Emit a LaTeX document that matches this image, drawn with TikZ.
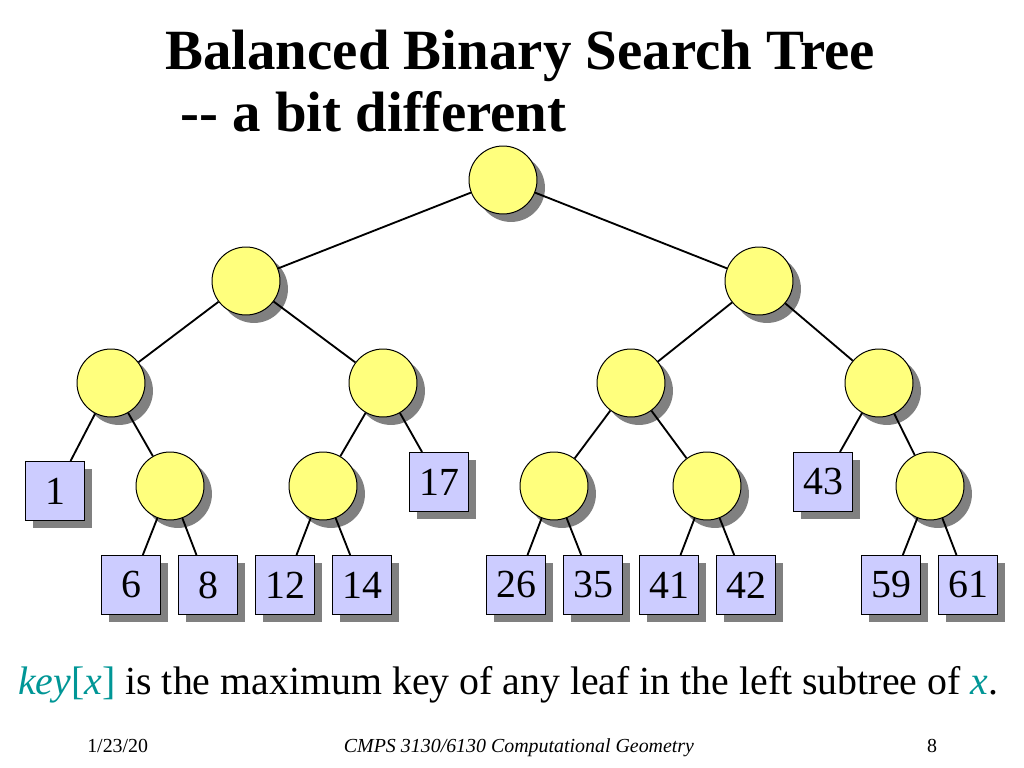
\documentclass[tikz,border=0pt]{standalone}
\usepackage{fontspec}
\setmainfont{Liberation Serif}
\usepackage{tikz}
\usetikzlibrary{shadows}

\definecolor{nodeyellow}{RGB}{255,255,125}
\definecolor{boxblue}{RGB}{204,204,255}
\definecolor{shadowgrey}{RGB}{128,128,128}
\definecolor{keyteal}{RGB}{0,150,150}

\begin{document}
\begin{tikzpicture}[x=0.703125pt, y=-0.703125pt,
	knot/.style={circle, draw, line width=0.7pt, fill=nodeyellow, minimum size=47.8pt, inner sep=0pt,
		drop shadow={fill=shadowgrey, opacity=1, shadow xshift=5.6pt, shadow yshift=-5.6pt}},
	keybox/.style={rectangle, draw, line width=0.7pt, fill=boxblue, minimum size=41.5pt, inner sep=0pt,
		font=\fontsize{28}{30}\selectfont,
		drop shadow={fill=shadowgrey, opacity=1, shadow xshift=5.6pt, shadow yshift=-5.6pt}},
	every edge/.style={draw, line width=1.3pt}]
	\useasboundingbox[fill=white] (0,0) rectangle (1024,768);
	\node (title) at (165,70) [anchor=base west, inner sep=0pt, font=\fontsize{40}{48}\selectfont\bfseries] {Balanced Binary Search Tree};
	\node (subtitle) at (180,132) [anchor=base west, inner sep=0pt, font=\fontsize{40}{48}\selectfont\bfseries] {{-}{-} a bit different};

	\node (root) at (503,180) [knot] {};
		\node (l) at (246,281) [knot] {}						edge[-](root);
			\node (ll) at (111,383) [knot] {}					edge[-](l);
				\node (1) at (55,491) [keybox] {1}				edge[-](ll);
				\node (llr) at (170,486) [knot] {}				edge[-](ll);
					\node (6) at (131,585) [keybox] {6}		edge[-](llr);
					\node (8) at (208,585) [keybox] {8}		edge[-](llr);
			\node (lr) at (383,383) [knot] {}					edge[-](l);
				\node (lrl) at (323,486) [knot] {}				edge[-](lr);
					\node (12) at (285,585) [keybox] {12}		edge[-](lrl);
					\node (14) at (362,585) [keybox] {14}		edge[-](lrl);
				\node (17) at (439,482) [keybox] {17}			edge[-](lr);
		\node (r) at (759,281) [knot] {}						edge[-](root);
			\node (rl) at (631,383) [knot] {}					edge[-](r);
				\node (rll) at (554,486) [knot] {}				edge[-](rl);
					\node (26) at (516,585) [keybox] {26}		edge[-](rll);
					\node (35) at (593,585) [keybox] {35}		edge[-](rll);
				\node (rlr) at (707,486) [knot] {}				edge[-](rl);
					\node (41) at (669,585) [keybox] {41}		edge[-](rlr);
					\node (42) at (746,585) [keybox] {42}		edge[-](rlr);
			\node (rr) at (879,383) [knot] {}					edge[-](r);
				\node (43) at (823,482) [keybox] {43}			edge[-](rr);
				\node (rrr) at (930,486) [knot] {}				edge[-](rr);
					\node (59) at (891,585) [keybox] {59}		edge[-](rrr);
					\node (61) at (968,585) [keybox] {61}		edge[-](rrr);

	\node (caption) at (18,694) [anchor=base west, inner sep=0pt, font=\fontsize{28}{32}\selectfont]
		{\textcolor{keyteal}{\textit{key}[\textit{x}]} is the maximum key of any leaf in the left subtree of \textcolor{keyteal}{\textit{x}}.};
	\node (date) at (87,752) [anchor=base west, inner sep=0pt, font=\fontsize{14}{16}\selectfont] {1/23/20};
	\node (course) at (519,752) [anchor=base, inner sep=0pt, font=\fontsize{14}{16}\selectfont\itshape] {CMPS 3130/6130 Computational Geometry};
	\node (page) at (932,752) [anchor=base, inner sep=0pt, font=\fontsize{14}{16}\selectfont] {8};
\end{tikzpicture}
\end{document}
